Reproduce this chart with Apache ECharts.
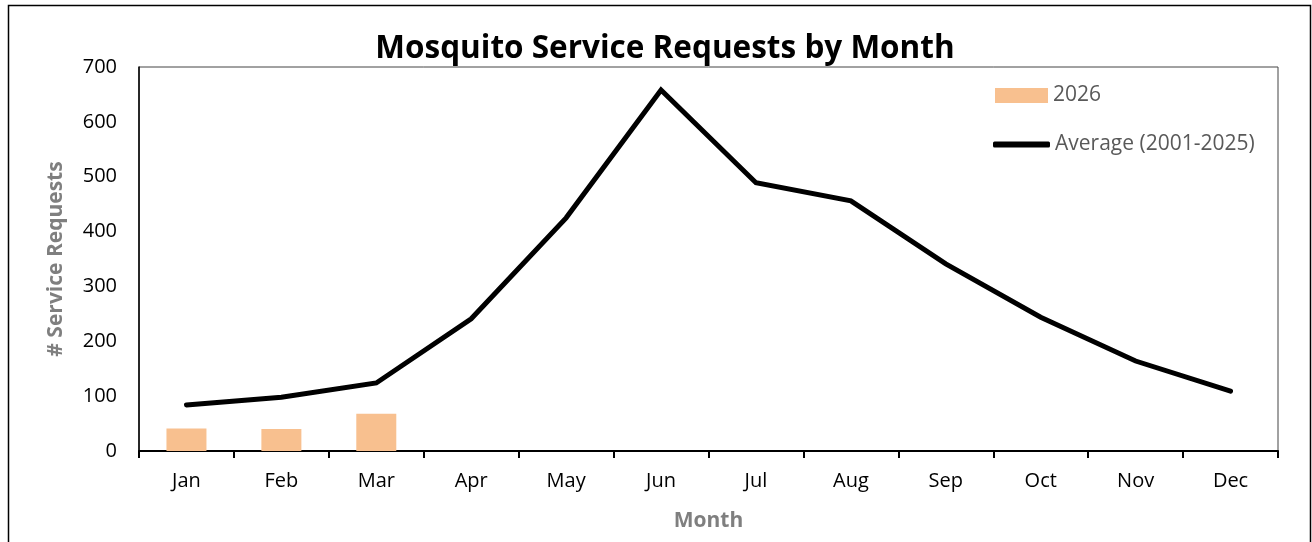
<!DOCTYPE html>
<html>
<head>
<meta charset="utf-8">
<script src="https://cdn.jsdelivr.net/npm/echarts@6/dist/echarts.min.js"></script>
<style>
html,body{margin:0;padding:0;background:#fff;}
#chart{width:1312px;height:542px;}
</style>
</head>
<body>
<div id="chart"></div>
<script>
const months = ['Jan','Feb','Mar','Apr','May','Jun','Jul','Aug','Sep','Oct','Nov','Dec'];
const values2026 = [41, 40, 68, null, null, null, null, null, null, null, null, null];
const averageValues = [84, 98, 124, 241, 425, 658, 489, 456, 341, 244, 164, 109];
const yTicks = [0, 100, 200, 300, 400, 500, 600, 700];

const FONT = '"Open Sans", sans-serif';
const chart = echarts.init(document.getElementById('chart'));
chart.setOption({
  animation: false,
  backgroundColor: '#fff',
  graphic: [{
    type: 'rect',
    shape: {x: 8.5, y: 5.5, width: 1302, height: 560},
    style: {fill: 'none', stroke: '#000', lineWidth: 1.5},
    silent: true
  }],
  title: {
    text: 'Mosquito Service Requests by Month',
    left: 660, top: 28, textAlign: 'center',
    textStyle: {fontFamily: FONT, fontWeight: 'bold', fontSize: 31.5, color: '#000'}
  },
  grid: {left: 139, right: 34, top: 67, bottom: 91, show: true, borderColor: '#444', borderWidth: 1},
  legend: [{
    data: [{name: '2026', icon: 'rect'}],
    left: 990, top: 80, itemWidth: 53, itemHeight: 15, itemGap: 5,
    textStyle: {fontFamily: FONT, fontSize: 21, color: '#595959'}
  }, {
    data: [{name: 'Average (2001-2025)', icon: 'roundRect'}],
    left: 988, top: 129, itemWidth: 57, itemHeight: 6, itemGap: 5,
    textStyle: {fontFamily: FONT, fontSize: 21, color: '#595959'}
  }],
  xAxis: {
    type: 'category', data: months,
    name: 'Month', nameLocation: 'middle', nameGap: 60,
    nameTextStyle: {fontFamily: FONT, fontSize: 21, fontWeight: 'bold', color: '#7f7f7f'},
    axisLine: {lineStyle: {color: '#000', width: 2}},
    axisTick: {show: true, length: 7, lineStyle: {color: '#000', width: 2}},
    axisLabel: {fontFamily: FONT, fontSize: 20, color: '#000', margin: 20}
  },
  yAxis: {
    type: 'value', min: 0, max: 700, interval: 100,
    name: '# Service Requests', nameLocation: 'middle', nameGap: 72,
    nameTextStyle: {fontFamily: FONT, fontSize: 21, fontWeight: 'bold', color: '#7f7f7f'},
    axisLine: {show: true, lineStyle: {color: '#000', width: 1.5}},
    axisTick: {show: false},
    splitLine: {show: false},
    axisLabel: {fontFamily: FONT, fontSize: 20, color: '#000', margin: 22,
      customValues: yTicks}
  },
  series: [{
    name: '2026', type: 'bar', data: values2026, barWidth: 40,
    itemStyle: {color: '#f8c08f'}
  }, {
    name: 'Average (2001-2025)', type: 'line', data: averageValues,
    symbol: 'none', lineStyle: {color: '#000', width: 5, cap: 'round', join: 'miter'},
    itemStyle: {color: '#000'}
  }]
});
</script>
</body>
</html>
